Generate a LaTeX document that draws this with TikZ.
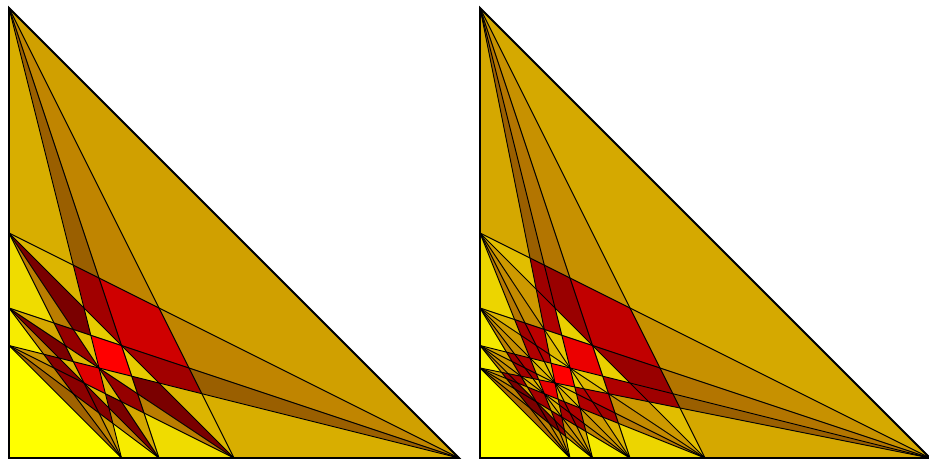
\documentclass[tikz,border=0pt]{standalone}
\usepackage{xcolor}
\usepackage{tikz}

\tikzset{
  facet/.style={draw=black, line width=0.55pt},
  rim/.style={draw=black, line width=1.1pt, line join=miter},
}

% faces of the arrangement of the segments (0,1/i)--(1/j,0):
% hue from the number of corners, shade from how compact the face is
\ExplSyntaxOn
\int_new:N \l_cut_n_int
\int_new:N \l_cut_m_int
\int_new:N \l_cut_k_int
\seq_new:N \l_cut_poly_seq
\seq_new:N \l_cut_new_seq
\seq_new:N \g_cut_faces_seq
\tl_new:N \l_cut_prev_tl
\tl_new:N \l_cut_path_tl
\tl_new:N \l_cut_p_tl
\tl_new:N \l_cut_c_tl
\tl_new:N \l_cut_q_tl
\tl_new:N \l_cut_la_tl
\tl_new:N \l_cut_lb_tl
\tl_new:N \l_cut_lc_tl
\tl_new:N \l_cut_ld_tl
\tl_new:N \l_cut_le_tl
\fp_new:N \l_cut_dp_fp
\fp_new:N \l_cut_dq_fp
\fp_new:N \l_cut_t_fp
\fp_new:N \l_cut_area_fp
\fp_new:N \l_cut_len_fp
\fp_new:N \l_cut_iq_fp
\fp_new:N \g_cut_lotri_fp
\fp_new:N \g_cut_hitri_fp
\fp_new:N \g_cut_loquad_fp
\fp_new:N \g_cut_hiquad_fp

\cs_new:Npn \cut_x:nn #1#2 {#1}
\cs_new:Npn \cut_y:nn #1#2 {#2}
\cs_new:Npn \cut_tx:N #1 { \exp_after:wN \cut_x:nn #1 }
\cs_new:Npn \cut_ty:N #1 { \exp_after:wN \cut_y:nn #1 }

\cs_new_protected:Npn \cut_cross:n #1
  {
    \fp_set:Nn \l_cut_t_fp { \l_cut_dp_fp / ( \l_cut_dp_fp - \l_cut_dq_fp ) }
    \seq_put_right:Nx \l_cut_new_seq
      {
        { \fp_eval:n { \cut_tx:N \l_cut_prev_tl + \l_cut_t_fp * ( \cut_x:nn #1 - \cut_tx:N \l_cut_prev_tl ) } }
        { \fp_eval:n { \cut_ty:N \l_cut_prev_tl + \l_cut_t_fp * ( \cut_y:nn #1 - \cut_ty:N \l_cut_prev_tl ) } }
      }
  }

% keep the points with  #3 * ( #1 x + #2 y - 1 ) <= 0
\cs_new_protected:Npn \cut_clip:nnn #1#2#3
  {
    \seq_clear:N \l_cut_new_seq
    \seq_get_right:NNT \l_cut_poly_seq \l_cut_prev_tl
      {
        \fp_set:Nn \l_cut_dp_fp
          { (#3) * ( (#1) * \cut_tx:N \l_cut_prev_tl + (#2) * \cut_ty:N \l_cut_prev_tl - 1 ) }
        \seq_map_inline:Nn \l_cut_poly_seq
          {
            \fp_set:Nn \l_cut_dq_fp
              { (#3) * ( (#1) * \cut_x:nn ##1 + (#2) * \cut_y:nn ##1 - 1 ) }
            \fp_compare:nNnTF \l_cut_dq_fp > { 0 }
              { \fp_compare:nNnF \l_cut_dp_fp > { 0 } { \cut_cross:n {##1} } }
              {
                \fp_compare:nNnT \l_cut_dp_fp > { 0 } { \cut_cross:n {##1} }
                \seq_put_right:Nn \l_cut_new_seq {##1}
              }
            \tl_set:Nn \l_cut_prev_tl {##1}
            \fp_set_eq:NN \l_cut_dp_fp \l_cut_dq_fp
          }
      }
    \seq_set_eq:NN \l_cut_poly_seq \l_cut_new_seq
  }

\cs_new_protected:Npn \cut_row:nn #1#2
  {
    \int_compare:nNnT { \seq_count:N \l_cut_poly_seq } > { 2 }
      {
        \int_compare:nNnT {#2} > { 0 } { \cut_clip:nnn {#2} {#1} { 1 } }
        \int_compare:nNnT {#2} < { \l_cut_n_int } { \cut_clip:nnn { #2 + 1 } {#1} { -1 } }
      }
  }

\cs_new_protected:Npn \cut_keep:n #1
  {
    \seq_put_right:Nn \l_cut_new_seq {#1}
    \tl_set:Nn \l_cut_prev_tl {#1}
  }

\cs_new_protected:Npn \cut_metrics:
  {
    \int_zero:N \l_cut_k_int
    \fp_zero:N \l_cut_area_fp
    \fp_zero:N \l_cut_len_fp
    \tl_clear:N \l_cut_path_tl
    \int_step_inline:nn { \l_cut_m_int }
      {
        \tl_set:Nx \l_cut_p_tl
          { \seq_item:Nn \l_cut_new_seq { \int_mod:nn { ##1 + \l_cut_m_int - 2 } { \l_cut_m_int } + 1 } }
        \tl_set:Nx \l_cut_c_tl { \seq_item:Nn \l_cut_new_seq { ##1 } }
        \tl_set:Nx \l_cut_q_tl
          { \seq_item:Nn \l_cut_new_seq { \int_mod:nn { ##1 } { \l_cut_m_int } + 1 } }
        \fp_compare:nNnT
          {
            abs ( ( \cut_tx:N \l_cut_c_tl - \cut_tx:N \l_cut_p_tl ) * ( \cut_ty:N \l_cut_q_tl - \cut_ty:N \l_cut_c_tl )
                - ( \cut_ty:N \l_cut_c_tl - \cut_ty:N \l_cut_p_tl ) * ( \cut_tx:N \l_cut_q_tl - \cut_tx:N \l_cut_c_tl ) )
          } > { 1e-11 }
          { \int_incr:N \l_cut_k_int }
        \fp_add:Nn \l_cut_area_fp
          { ( \cut_tx:N \l_cut_c_tl * \cut_ty:N \l_cut_q_tl - \cut_tx:N \l_cut_q_tl * \cut_ty:N \l_cut_c_tl ) / 2 }
        \fp_add:Nn \l_cut_len_fp
          { sqrt ( ( \cut_tx:N \l_cut_q_tl - \cut_tx:N \l_cut_c_tl ) ** 2 + ( \cut_ty:N \l_cut_q_tl - \cut_ty:N \l_cut_c_tl ) ** 2 ) }
        \tl_put_right:Nx \l_cut_path_tl
          { ( \fp_eval:n { round ( \cut_tx:N \l_cut_c_tl , 5 ) } , \fp_eval:n { round ( \cut_ty:N \l_cut_c_tl , 5 ) } ) -- }
      }
    \tl_put_right:Nn \l_cut_path_tl { cycle }
    \fp_set:Nn \l_cut_area_fp { abs ( \l_cut_area_fp ) }
    \fp_compare:nNnT \l_cut_area_fp > { 1e-9 }
      {
        \fp_set:Nn \l_cut_iq_fp { 4 * pi * \l_cut_area_fp / ( \l_cut_len_fp ** 2 ) }
        \int_compare:nNnTF \l_cut_k_int = { 3 }
          {
            \fp_gset:Nn \g_cut_lotri_fp { min ( \g_cut_lotri_fp , \l_cut_iq_fp ) }
            \fp_gset:Nn \g_cut_hitri_fp { max ( \g_cut_hitri_fp , \l_cut_iq_fp ) }
          }
          {
            \fp_gset:Nn \g_cut_loquad_fp { min ( \g_cut_loquad_fp , \l_cut_iq_fp ) }
            \fp_gset:Nn \g_cut_hiquad_fp { max ( \g_cut_hiquad_fp , \l_cut_iq_fp ) }
          }
        \seq_gput_right:Nx \g_cut_faces_seq
          { { \int_use:N \l_cut_k_int } { \fp_use:N \l_cut_iq_fp } { \exp_not:V \l_cut_path_tl } }
      }
  }

\cs_new_protected:Npn \cut_measure:
  {
    \seq_clear:N \l_cut_new_seq
    \tl_clear:N \l_cut_prev_tl
    \seq_map_inline:Nn \l_cut_poly_seq
      {
        \tl_if_empty:NTF \l_cut_prev_tl
          { \cut_keep:n {##1} }
          {
            \fp_compare:nNnT
              {
                abs ( \cut_x:nn ##1 - \cut_tx:N \l_cut_prev_tl )
                + abs ( \cut_y:nn ##1 - \cut_ty:N \l_cut_prev_tl )
              } > { 1e-9 }
              { \cut_keep:n {##1} }
          }
      }
    \int_compare:nNnT { \seq_count:N \l_cut_new_seq } > { 1 }
      {
        \seq_get_left:NN \l_cut_new_seq \l_cut_p_tl
        \fp_compare:nNnF
          {
            abs ( \cut_tx:N \l_cut_p_tl - \cut_tx:N \l_cut_prev_tl )
            + abs ( \cut_ty:N \l_cut_p_tl - \cut_ty:N \l_cut_prev_tl )
          } > { 1e-9 }
          { \seq_pop_right:NN \l_cut_new_seq \l_cut_q_tl }
      }
    \int_set:Nn \l_cut_m_int { \seq_count:N \l_cut_new_seq }
    \int_compare:nNnT \l_cut_m_int > { 2 } { \cut_metrics: }
  }

\cs_new_protected:Npn \cut_face:nnnnn #1#2#3#4#5
  {
    \seq_clear:N \l_cut_poly_seq
    \seq_put_right:Nn \l_cut_poly_seq { {0}{0} }
    \seq_put_right:Nn \l_cut_poly_seq { {1}{0} }
    \seq_put_right:Nn \l_cut_poly_seq { {0}{1} }
    \cut_row:nn { 1 } {#1}
    \cut_row:nn { 2 } {#2}
    \cut_row:nn { 3 } {#3}
    \cut_row:nn { 4 } {#4}
    \int_compare:nNnT \l_cut_n_int > { 4 } { \cut_row:nn { 5 } {#5} }
    \int_compare:nNnT { \seq_count:N \l_cut_poly_seq } > { 2 } { \cut_measure: }
  }

\cs_new_protected:Npn \cut_build:n #1
  {
    \int_set:Nn \l_cut_n_int {#1}
    \seq_gclear:N \g_cut_faces_seq
    \fp_gset:Nn \g_cut_lotri_fp { 10 }
    \fp_gset:Nn \g_cut_hitri_fp { -1 }
    \fp_gset:Nn \g_cut_loquad_fp { 10 }
    \fp_gset:Nn \g_cut_hiquad_fp { -1 }
    \int_step_variable:nnNn { 1 } {#1} \l_cut_la_tl
      {
        \int_step_variable:nnNn { 0 } { \l_cut_la_tl } \l_cut_lb_tl
          {
            \int_step_variable:nnNn { 0 } { \l_cut_lb_tl } \l_cut_lc_tl
              {
                \int_step_variable:nnNn { 0 } { \l_cut_lc_tl } \l_cut_ld_tl
                  {
                    \int_step_variable:nnNn { 0 }
                      { \int_compare:nNnTF {#1} > { 4 } { \l_cut_ld_tl } { 0 } } \l_cut_le_tl
                      {
                        \cut_face:nnnnn { \l_cut_la_tl } { \l_cut_lb_tl } { \l_cut_lc_tl }
                          { \l_cut_ld_tl } { \l_cut_le_tl }
                      }
                  }
              }
          }
      }
  }

\cs_new_protected:Npn \cut_paint:nnn #1#2#3
  {
    \int_compare:nNnTF {#1} = { 3 }
      {
        \fp_set:Nn \l_cut_t_fp
          { ( #2 - \g_cut_lotri_fp ) / ( \g_cut_hitri_fp - \g_cut_lotri_fp ) }
        \use:x
          {
            \exp_not:N \definecolor { facecol } { rgb }
              {
                \fp_eval:n { round ( ( 154 + 101 * \l_cut_t_fp ** 0.55 ) / 255 , 4 ) } ,
                \fp_eval:n { round ( ( 95 + 160 * \l_cut_t_fp ** 0.8 ) / 255 , 4 ) } , 0
              }
          }
      }
      {
        \fp_set:Nn \l_cut_t_fp
          { ( #2 - \g_cut_loquad_fp ) / ( \g_cut_hiquad_fp - \g_cut_loquad_fp ) }
        \use:x
          {
            \exp_not:N \definecolor { facecol } { rgb }
              { \fp_eval:n { round ( ( 122 + 133 * \l_cut_t_fp ** 1.5 ) / 255 , 4 ) } , 0 , 0 }
          }
      }
    \fill [ fill = facecol ] #3 ;
  }

\cs_new_protected:Npn \cut_paint_all:
  {
    \fp_compare:nNnF \g_cut_hitri_fp > \g_cut_lotri_fp
      { \fp_gset:Nn \g_cut_hitri_fp { \g_cut_lotri_fp + 1 } }
    \fp_compare:nNnF \g_cut_hiquad_fp > \g_cut_loquad_fp
      { \fp_gset:Nn \g_cut_hiquad_fp { \g_cut_loquad_fp + 1 } }
    \seq_map_inline:Nn \g_cut_faces_seq { \cut_paint:nnn ##1 }
  }

\cs_new_eq:NN \buildfacets \cut_build:n
\cs_new_eq:NN \paintfacets \cut_paint_all:
\ExplSyntaxOff

\begin{document}
\begin{tikzpicture}[x=1cm, y=1cm]
  \useasboundingbox (0,0) rectangle (18.58,9.2);
  \fill[white] (0,0) rectangle (18.58,9.2);

  % four points on each leg
  \begin{scope}[shift={(0.18,0.04)}, scale=9]
    \buildfacets{4}
    \paintfacets
    \foreach \i in {1,...,4}
      \foreach \j in {1,...,4}
        \draw[facet] (0,1/\i) -- (1/\j,0);
    \draw[rim] (0,0) -- (0,1) -- (1,0) -- cycle;
  \end{scope}

  % five points on each leg
  \begin{scope}[shift={(9.6,0.04)}, scale=9]
    \buildfacets{5}
    \paintfacets
    \foreach \i in {1,...,5}
      \foreach \j in {1,...,5}
        \draw[facet] (0,1/\i) -- (1/\j,0);
    \draw[rim] (0,0) -- (0,1) -- (1,0) -- cycle;
  \end{scope}
\end{tikzpicture}
\end{document}
